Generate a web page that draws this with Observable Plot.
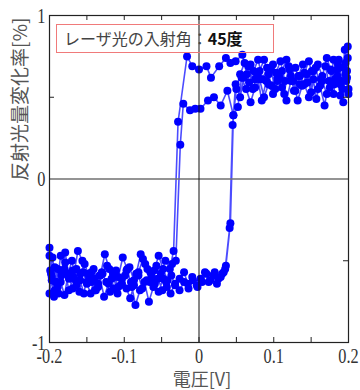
<!DOCTYPE html>
<html>
<head>
<meta charset="utf-8">
<script src="https://cdn.jsdelivr.net/npm/d3@7"></script>
<script src="https://cdn.jsdelivr.net/npm/@observablehq/plot@0.6"></script>
<style>
  body { margin: 0; background: #fff; }
  #wrap { position: relative; width: 360px; height: 390px; }
  #legend {
    position: absolute; left: 56px; top: 24px; width: 209px; height: 27px;
    border: 1px solid #f07a7a; padding-left: 7px;
    font-family: "Noto Sans CJK JP", sans-serif; font-size: 16px; line-height: 27px;
    color: #444; white-space: nowrap;
  }
  #legend b { color: #111; }
</style>
</head>
<body>
<div id="wrap"><div id="legend">レーザ光の入射角：<b>45度</b></div></div>
<script>
// Reflectance change vs. applied voltage, swept twice round the loop.
// Each sweep is a list of [voltage V, reflectance change %].
const lowerUp1 = [[-0.200,-0.47],[-0.197,-0.60],[-0.193,-0.68],[-0.189,-0.55],[-0.185,-0.63],[-0.180,-0.71],[-0.175,-0.58],[-0.170,-0.50],[-0.165,-0.62],[-0.160,-0.69],[-0.155,-0.57],[-0.150,-0.64],[-0.145,-0.70],[-0.140,-0.61],[-0.135,-0.66],[-0.130,-0.57],[-0.124,-0.63],[-0.119,-0.69],[-0.114,-0.60],[-0.108,-0.66],[-0.103,-0.61],[-0.097,-0.67],[-0.092,-0.73],[-0.087,-0.65],[-0.081,-0.59],[-0.076,-0.67],[-0.070,-0.62],[-0.065,-0.57],[-0.059,-0.64],[-0.054,-0.69],[-0.048,-0.61],[-0.043,-0.66],[-0.037,-0.59],[-0.032,-0.65],[-0.026,-0.61],[-0.020,-0.57],[-0.015,-0.64],[-0.009,-0.60],[-0.003,-0.65],[0.002,-0.61],[0.008,-0.57],[0.013,-0.63],[0.019,-0.59],[0.024,-0.64],[0.029,-0.60],[0.033,-0.57],[0.036,-0.53],[0.042,-0.27],[0.046,0.39]];
const upperUp1 = [[0.050,0.55],[0.055,0.64],[0.061,0.71],[0.067,0.59],[0.073,0.66],[0.079,0.73],[0.085,0.61],[0.091,0.68],[0.097,0.57],[0.103,0.65],[0.109,0.72],[0.115,0.60],[0.121,0.67],[0.127,0.54],[0.133,0.63],[0.139,0.70],[0.145,0.59],[0.151,0.66],[0.157,0.49],[0.163,0.61],[0.169,0.69],[0.175,0.56],[0.180,0.73],[0.185,0.63],[0.189,0.51],[0.193,0.68],[0.197,0.60],[0.199,0.74],[0.200,0.55]];
const upperDown1 = [[0.198,0.66],[0.195,0.79],[0.191,0.60],[0.186,0.70],[0.181,0.58],[0.176,0.67],[0.171,0.74],[0.165,0.63],[0.159,0.70],[0.153,0.61],[0.147,0.72],[0.141,0.65],[0.135,0.58],[0.129,0.68],[0.123,0.63],[0.117,0.73],[0.111,0.66],[0.105,0.60],[0.099,0.70],[0.093,0.64],[0.087,0.73],[0.081,0.66],[0.075,0.61],[0.069,0.70],[0.064,0.64],[0.058,0.76],[0.049,0.72],[0.042,0.71],[0.036,0.74],[0.027,0.69],[0.016,0.62],[0.010,0.69],[0.000,0.67],[-0.009,0.69],[-0.016,0.75],[-0.028,0.35],[-0.034,-0.44]];
const lowerDown1 = [[-0.039,-0.55],[-0.045,-0.50],[-0.051,-0.58],[-0.057,-0.53],[-0.063,-0.60],[-0.069,-0.55],[-0.075,-0.49],[-0.081,-0.57],[-0.087,-0.62],[-0.093,-0.54],[-0.099,-0.59],[-0.105,-0.65],[-0.111,-0.56],[-0.117,-0.61],[-0.123,-0.53],[-0.129,-0.58],[-0.135,-0.64],[-0.141,-0.55],[-0.147,-0.60],[-0.153,-0.52],[-0.159,-0.58],[-0.164,-0.65],[-0.169,-0.56],[-0.174,-0.61],[-0.179,-0.51],[-0.184,-0.59],[-0.189,-0.66],[-0.193,-0.54],[-0.197,-0.62],[-0.200,-0.70]];
const lowerUp2 = [[-0.199,-0.56],[-0.196,-0.48],[-0.192,-0.63],[-0.188,-0.70],[-0.184,-0.57],[-0.179,-0.45],[-0.174,-0.60],[-0.169,-0.67],[-0.164,-0.55],[-0.159,-0.62],[-0.154,-0.70],[-0.149,-0.58],[-0.144,-0.63],[-0.139,-0.68],[-0.133,-0.59],[-0.127,-0.72],[-0.121,-0.64],[-0.115,-0.58],[-0.109,-0.70],[-0.103,-0.64],[-0.097,-0.56],[-0.091,-0.63],[-0.085,-0.77],[-0.079,-0.68],[-0.073,-0.63],[-0.067,-0.75],[-0.061,-0.66],[-0.055,-0.61],[-0.049,-0.68],[-0.044,-0.63],[-0.038,-0.70],[-0.032,-0.64],[-0.026,-0.68],[-0.020,-0.63],[-0.014,-0.67],[-0.008,-0.62],[-0.002,-0.66],[0.004,-0.63],[0.010,-0.58],[0.015,-0.62],[0.021,-0.57],[0.026,-0.61],[0.031,-0.58],[0.035,-0.55],[0.041,-0.30],[0.045,0.33]];
const upperUp2 = [[0.049,0.58],[0.055,0.50],[0.060,0.62],[0.066,0.69],[0.072,0.55],[0.078,0.63],[0.084,0.48],[0.090,0.60],[0.096,0.67],[0.102,0.55],[0.108,0.62],[0.114,0.52],[0.120,0.69],[0.126,0.60],[0.132,0.48],[0.138,0.57],[0.144,0.64],[0.150,0.53],[0.156,0.68],[0.162,0.57],[0.168,0.45],[0.174,0.60],[0.180,0.52],[0.185,0.67],[0.189,0.58],[0.193,0.47],[0.196,0.71],[0.198,0.62],[0.200,0.52],[0.199,0.81]];
const upperDown2 = [[0.196,0.64],[0.192,0.55],[0.187,0.73],[0.182,0.61],[0.177,0.66],[0.171,0.52],[0.165,0.60],[0.159,0.55],[0.153,0.66],[0.147,0.50],[0.141,0.58],[0.135,0.63],[0.129,0.54],[0.123,0.60],[0.117,0.48],[0.111,0.56],[0.105,0.62],[0.099,0.52],[0.093,0.58],[0.087,0.50],[0.081,0.61],[0.075,0.56],[0.069,0.47],[0.063,0.55],[0.057,0.62],[0.052,0.44],[0.046,0.39],[0.038,0.54],[0.029,0.45],[0.020,0.50],[0.012,0.48],[0.002,0.43],[-0.005,0.43],[-0.012,0.42],[-0.021,0.46],[-0.025,0.21],[-0.031,-0.50]];
const lowerDown2 = [[-0.036,-0.52],[-0.042,-0.62],[-0.048,-0.55],[-0.054,-0.47],[-0.060,-0.56],[-0.066,-0.63],[-0.072,-0.52],[-0.078,-0.46],[-0.084,-0.58],[-0.090,-0.66],[-0.096,-0.55],[-0.102,-0.48],[-0.108,-0.60],[-0.114,-0.67],[-0.120,-0.55],[-0.126,-0.46],[-0.132,-0.59],[-0.138,-0.68],[-0.144,-0.57],[-0.150,-0.63],[-0.156,-0.50],[-0.162,-0.44],[-0.168,-0.60],[-0.174,-0.68],[-0.180,-0.55],[-0.185,-0.47],[-0.190,-0.63],[-0.194,-0.72],[-0.198,-0.58],[-0.200,-0.42]];

const xTicks = [-0.2, -0.1, 0, 0.1, 0.2];
const xMinorTicks = [-0.15, -0.1, -0.05, 0, 0.05, 0.1, 0.15];
const yTicks = [-1, 0, 1];
const yMinorTicks = [-0.5, 0.5];
const xTitle = "電圧[V]";
const yTitle = "反射光量変化率[%]";

const sweeps = [lowerUp1, upperUp1, upperDown1, lowerDown1, lowerUp2, upperUp2, upperDown2, lowerDown2];
const points = sweeps.flat().map(([v, r]) => ({v, r}));

const W = 360, H = 390, mL = 49, mR = 12, mT = 15, mB = 48;
const frameW = W - mL - mR, frameH = H - mT - mB, tick = 5;
const tickColor = "#222";

const chart = Plot.plot({
  width: W, height: H,
  marginLeft: mL, marginRight: mR, marginTop: mT, marginBottom: mB,
  style: {fontFamily: "'Liberation Serif', serif", fontSize: "22px", color: "#333", background: "#fff"},
  x: {domain: [-0.2, 0.2], label: null},
  y: {domain: [-1, 1], label: null},
  marks: [
    Plot.line(points, {x: "v", y: "r", stroke: "#0000ff", strokeWidth: 1.6, strokeOpacity: 0.7}),
    Plot.dot(points, {x: "v", y: "r", r: 4, fill: "#0000ff"}),
    Plot.ruleY([0], {stroke: "#707070", strokeWidth: 1.6}),
    Plot.ruleX([0], {stroke: "#111", strokeWidth: 1}),
    // inward ticks on all four sides
    Plot.ruleX(xMinorTicks, {x: d => d, insetTop: frameH - tick, stroke: tickColor}),
    Plot.ruleX(xMinorTicks, {x: d => d, insetBottom: frameH - tick, stroke: tickColor}),
    Plot.ruleY(yMinorTicks, {y: d => d, insetRight: frameW - tick, stroke: tickColor}),
    Plot.ruleY(yMinorTicks, {y: d => d, insetLeft: frameW - tick, stroke: tickColor}),
    Plot.frame({stroke: "#222", strokeWidth: 1.2}),
    Plot.axisX({ticks: xTicks, tickSize: 0, tickPadding: 5, tickFormat: d => String(d), fill: "#333", label: null}),
    Plot.axisY({ticks: yTicks, tickSize: 0, tickPadding: 4, tickFormat: d => String(d), fill: "#333", label: null}),
    Plot.text([xTitle], {text: d => d, frameAnchor: "bottom", dx: 3, dy: 38, lineAnchor: "middle",
      fontFamily: "'Noto Sans CJK JP', sans-serif", fontSize: 18, fill: "#555"}),
    Plot.text([yTitle], {text: d => d, frameAnchor: "left", dx: -29, dy: 2, rotate: -90, lineAnchor: "middle",
      fontFamily: "'Noto Sans CJK JP', sans-serif", fontSize: 19, fill: "#555"})
  ]
});

// tick numerals are set in a narrow serif: squeeze each one about its own anchor
for (const t of chart.querySelectorAll('g[aria-label$="tick label"] text')) {
  let tr = t.getAttribute("transform") || "";
  const x = t.getAttribute("x");
  if (x !== null && !isNaN(+x)) {
    tr += ` translate(${+x},0)`;
    t.removeAttribute("x");
  }
  t.setAttribute("transform", `${tr} scale(0.74,1)`);
}

const wrap = document.getElementById("wrap");
wrap.insertBefore(chart, wrap.firstChild);
chart.style.position = "absolute";
chart.style.left = "0";
chart.style.top = "0";
</script>
</body>
</html>
